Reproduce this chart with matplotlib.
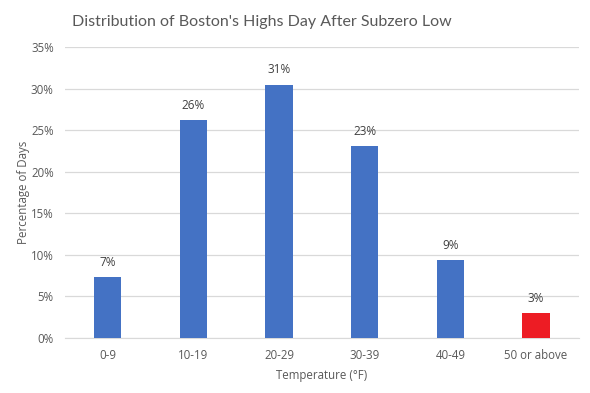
import matplotlib.pyplot as plt
from matplotlib.ticker import PercentFormatter

categories = ['0-9', '10-19', '20-29', '30-39', '40-49', '50 or above']
percents = [7.3, 26.2, 30.5, 23.1, 9.4, 3.0]
labels = ['7%', '26%', '31%', '23%', '9%', '3%']
colors = ['#4472C4'] * 5 + ['#ED1C24']

plt.rcParams['font.family'] = ['Open Sans', 'DejaVu Sans']

fig = plt.figure(figsize=(5.9, 3.93), dpi=100)
ax = fig.add_axes([0.110, 0.140, 0.871, 0.740])

x = range(len(categories))
bars = ax.bar(x, percents, width=0.32, color=colors, zorder=3)

for b, lab in zip(bars, labels):
    ax.annotate(lab, (b.get_x() + b.get_width() / 2, b.get_height()),
                xytext=(0, 6), textcoords='offset points',
                ha='center', va='bottom', fontsize=8.5, color='#404040')

ax.set_ylim(0, 35)
ax.set_xlim(-0.5, len(categories) - 0.5)
ax.set_yticks(range(0, 36, 5))
ax.yaxis.set_major_formatter(PercentFormatter(decimals=0))
ax.set_xticks(list(x))
ax.set_xticklabels(categories)
ax.grid(axis='y', color='#D9D9D9', linewidth=0.9, zorder=0)
ax.tick_params(length=0, colors='#595959', labelsize=8.3, pad=8)
for s in ['top', 'right', 'left']:
    ax.spines[s].set_visible(False)
ax.spines['bottom'].set_color('#D9D9D9')

ax.set_xlabel('Temperature (°F)', fontsize=8.3, color='#595959', labelpad=5)
ax.set_ylabel('Percentage of Days', fontsize=8.3, color='#595959', labelpad=1)

fig.text(262 / 590, 1 - 22 / 393, "Distribution of Boston's Highs Day After Subzero Low",
         ha='center', va='center', fontsize=11.5, color='#595959',
         family=['Lato', 'DejaVu Sans'])

fig.savefig('out.png', dpi=100, facecolor='white')
